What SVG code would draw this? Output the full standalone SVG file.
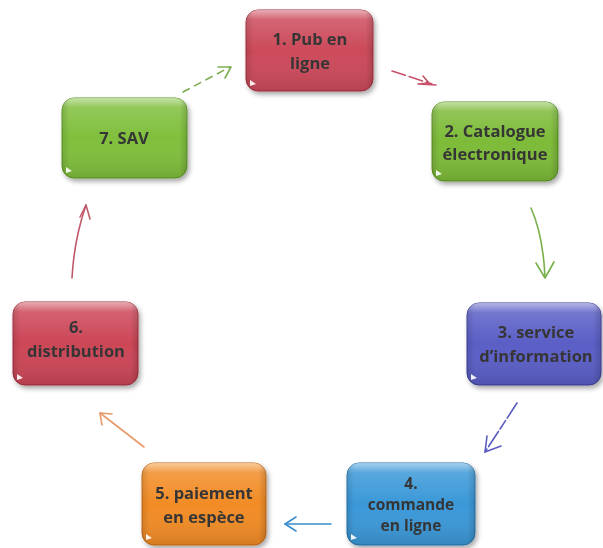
<svg xmlns="http://www.w3.org/2000/svg" width="603" height="548" viewBox="0 0 603 548">
  <defs>
    <linearGradient id="gloss" x1="0" y1="0" x2="0" y2="1">
      <stop offset="0" stop-color="#fff" stop-opacity="0.55"/>
      <stop offset="0.12" stop-color="#fff" stop-opacity="0.15"/>
      <stop offset="0.5" stop-color="#fff" stop-opacity="0"/>
      <stop offset="1" stop-color="#000" stop-opacity="0.12"/>
    </linearGradient>
    <linearGradient id="edge" x1="0" y1="0" x2="1" y2="0">
      <stop offset="0" stop-color="#000" stop-opacity="0.12"/>
      <stop offset="0.06" stop-color="#000" stop-opacity="0"/>
      <stop offset="0.94" stop-color="#000" stop-opacity="0"/>
      <stop offset="1" stop-color="#000" stop-opacity="0.15"/>
    </linearGradient>
    <filter id="shadow" x="-10%" y="-10%" width="125%" height="130%">
      <feGaussianBlur in="SourceAlpha" stdDeviation="2.5"/>
      <feOffset dx="2" dy="3"/>
      <feComponentTransfer><feFuncA type="linear" slope="0.35"/></feComponentTransfer>
      <feMerge><feMergeNode/><feMergeNode in="SourceGraphic"/></feMerge>
    </filter>
  </defs>
  <style>
    .box { stroke-width: 1; }
    .label { font-family: "Open Sans", "Liberation Sans", sans-serif; font-weight: bold; font-size: 16.5px; fill: #363636; text-anchor: middle; }
    .small { font-size: 15.5px; }
    .conn { fill: none; stroke-width: 1.6; stroke-linecap: round; }
    .tip { fill: none; stroke-width: 1.6; stroke-linecap: round; stroke-linejoin: round; }
    .corner { fill: #fff; opacity: 0.9; }
  </style>

  <rect width="603" height="548" fill="#fff"/>

  <!-- connectors -->
  <g id="connectors">
    <path class="conn" d="M183,92 L230,67" stroke="#7fae52" stroke-dasharray="7,6"/>
    <path class="tip" d="M218,67 L231,67 L225,78" stroke="#7fae52"/>

    <path class="conn" d="M392,71 L432,84" stroke="#c8506a" stroke-dasharray="14,4"/>
    <path class="tip" d="M423,76 L429,83 L418,84 L436,85" stroke="#c8506a"/>

    <path class="conn" d="M531,208 Q543,235 545,277" stroke="#77b04a"/>
    <path class="tip" d="M536,263 L545,278 L554,262" stroke="#77b04a"/>

    <path class="conn" d="M517,403 L485,452" stroke="#5a5cbf" stroke-dasharray="18,3,10,3"/>
    <path class="tip" d="M487,436 L485,452 L501,446" stroke="#5a5cbf"/>

    <path class="conn" d="M331,524 L285,524" stroke="#3a8ccc"/>
    <path class="tip" d="M296,517 L285,524 L296,531" stroke="#3a8ccc"/>

    <path class="conn" d="M144,447 L100,413" stroke="#e8996a"/>
    <path class="tip" d="M102,425 L100,413 L112,414" stroke="#e8996a"/>

    <path class="conn" d="M72,278 Q74,240 86,205" stroke="#c05a6a"/>
    <path class="tip" d="M80,217 L86,205 L90,219" stroke="#c05a6a"/>
  </g>

  <!-- 1. Pub en ligne -->
  <g id="node1" filter="url(#shadow)">
    <rect class="box" x="246" y="10" width="127" height="81" rx="12" fill="#cc4a5a" stroke="#a8303f"/>
    <rect x="246" y="10" width="127" height="81" rx="12" fill="url(#gloss)"/>
    <rect x="246" y="10" width="127" height="81" rx="12" fill="url(#edge)"/>
    <path class="corner" d="M250,80 L256,84 L250,86 Z"/>
    <text class="label" x="310" y="45">1. Pub en</text>
    <text class="label" x="310" y="69">ligne</text>
  </g>

  <!-- 2. Catalogue électronique -->
  <g id="node2" filter="url(#shadow)">
    <rect class="box" x="432" y="102" width="126" height="79" rx="12" fill="#7dbb38" stroke="#5a9420"/>
    <rect x="432" y="102" width="126" height="79" rx="12" fill="url(#gloss)"/>
    <rect x="432" y="102" width="126" height="79" rx="12" fill="url(#edge)"/>
    <path class="corner" d="M436,170 L442,174 L436,176 Z"/>
    <text class="label" x="495" y="137">2. Catalogue</text>
    <text class="label" x="495" y="160">électronique</text>
  </g>

  <!-- 3. service d'information -->
  <g id="node3" filter="url(#shadow)">
    <rect class="box" x="467" y="303" width="134" height="82" rx="12" fill="#5a5ec6" stroke="#3c3e9c"/>
    <rect x="467" y="303" width="134" height="82" rx="12" fill="url(#gloss)"/>
    <rect x="467" y="303" width="134" height="82" rx="12" fill="url(#edge)"/>
    <path class="corner" d="M471,374 L477,378 L471,380 Z"/>
    <text class="label" x="536" y="338">3. service</text>
    <text class="label" x="536" y="362">d’information</text>
  </g>

  <!-- 4. commande en ligne -->
  <g id="node4" filter="url(#shadow)">
    <rect class="box" x="347" y="463" width="128" height="82" rx="12" fill="#3b98d8" stroke="#2474ae"/>
    <rect x="347" y="463" width="128" height="82" rx="12" fill="url(#gloss)"/>
    <rect x="347" y="463" width="128" height="82" rx="12" fill="url(#edge)"/>
    <path class="corner" d="M351,534 L357,538 L351,540 Z"/>
    <text class="label small" x="411" y="489">4.</text>
    <text class="label small" x="411" y="510">commande</text>
    <text class="label small" x="411" y="531">en ligne</text>
  </g>

  <!-- 5. paiement en espèce -->
  <g id="node5" filter="url(#shadow)">
    <rect class="box" x="142" y="463" width="124" height="82" rx="12" fill="#f28c26" stroke="#c96a10"/>
    <rect x="142" y="463" width="124" height="82" rx="12" fill="url(#gloss)"/>
    <rect x="142" y="463" width="124" height="82" rx="12" fill="url(#edge)"/>
    <path class="corner" d="M146,534 L152,538 L146,540 Z"/>
    <text class="label" x="204" y="499">5. paiement</text>
    <text class="label" x="204" y="523">en espèce</text>
  </g>

  <!-- 6. distribution -->
  <g id="node6" filter="url(#shadow)">
    <rect class="box" x="13" y="302" width="125" height="83" rx="12" fill="#cc4657" stroke="#a52c3c"/>
    <rect x="13" y="302" width="125" height="83" rx="12" fill="url(#gloss)"/>
    <rect x="13" y="302" width="125" height="83" rx="12" fill="url(#edge)"/>
    <path class="corner" d="M17,374 L23,378 L17,380 Z"/>
    <text class="label" x="76" y="333">6.</text>
    <text class="label" x="76" y="357">distribution</text>
  </g>

  <!-- 7. SAV -->
  <g id="node7" filter="url(#shadow)">
    <rect class="box" x="62" y="98" width="125" height="80" rx="12" fill="#80bf3c" stroke="#5c9a22"/>
    <rect x="62" y="98" width="125" height="80" rx="12" fill="url(#gloss)"/>
    <rect x="62" y="98" width="125" height="80" rx="12" fill="url(#edge)"/>
    <path class="corner" d="M66,167 L72,171 L66,173 Z"/>
    <text class="label" x="124" y="144">7. SAV</text>
  </g>
</svg>
